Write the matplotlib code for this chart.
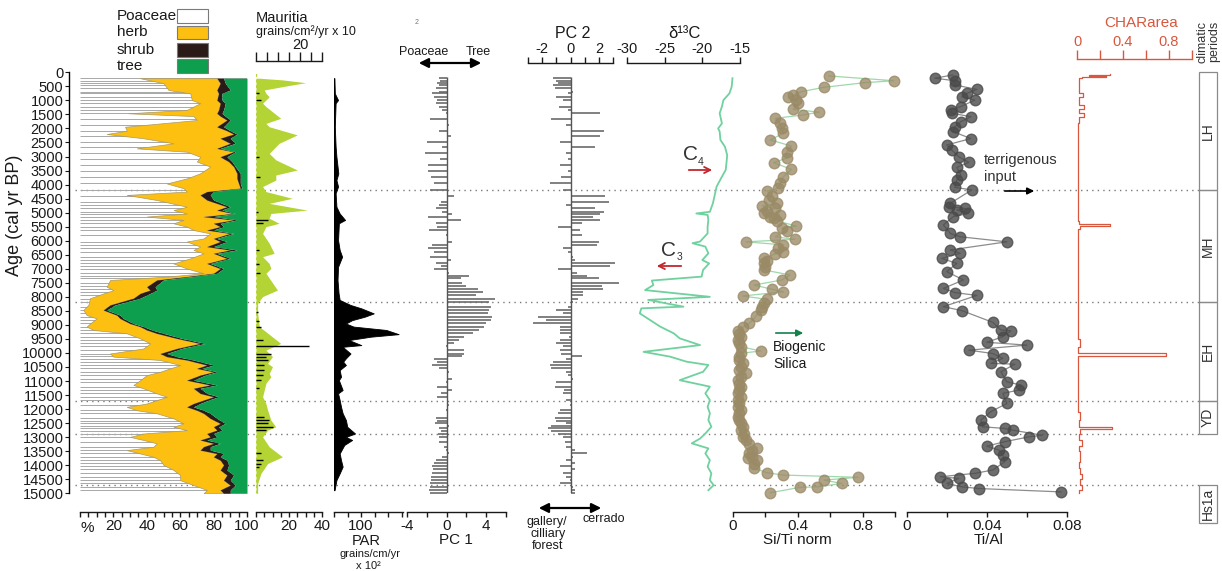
import numpy as np
import matplotlib.pyplot as plt
from matplotlib.patches import Rectangle, FancyArrowPatch

plt.rcParams['font.family'] = ['Liberation Sans', 'DejaVu Sans']
plt.rcParams['axes.linewidth'] = 1.0

# ---------------- pollen percentages (Poaceae / herb / shrub, tree = rest) ----------------
pollen_age = [210, 390, 630, 750, 990, 1100, 1340, 1460, 1560, 1700,
              1940, 2080, 2200, 2350, 2530, 2710, 2830, 3010, 3180, 3360,
              3600, 3780, 3960, 4130, 4250, 4370, 4550, 4790, 4910, 5030,
              5140, 5260, 5380, 5500, 5620, 5740, 5920, 6030, 6210, 6330,
              6450, 6630, 6810, 6990, 7160, 7280, 7400, 7640, 7760, 7880,
              8050, 8290, 8470, 8650, 8770, 8950, 9060, 9180, 9300, 9480,
              9660, 9840, 10020, 10130, 10250, 10430, 10550, 10670, 10790, 10970,
              11140, 11260, 11440, 11560, 11680, 11800, 11920, 12040, 12150, 12330,
              12510, 12630, 12750, 12870, 12990, 13100, 13220, 13340, 13460, 13580,
              13700, 13820, 13990, 14170, 14350, 14530, 14710, 14880, 15000]
poaceae = [36, 50, 53, 66, 67, 72, 64, 29, 68, 70,
           27, 28, 16, 38, 56, 34, 64, 72, 70, 78,
           72, 64, 52, 62, 64, 28, 46, 64, 56, 64,
           40, 62, 56, 64, 68, 78, 74, 64, 72, 68,
           74, 66, 56, 64, 74, 52, 18, 16, 20, 14,
           6, 5, 2, 4, 10, 6, 4, 8, 28, 36,
           42, 38, 18, 20, 48, 60, 54, 48, 40, 36,
           32, 38, 46, 52, 46, 40, 28, 34, 46, 56,
           62, 56, 64, 38, 30, 38, 46, 44, 28, 36,
           44, 48, 50, 56, 60, 60, 68, 76, 74]
herb = [46, 34, 29, 17, 15, 12, 19, 53, 16, 18,
        55, 60, 76, 46, 34, 48, 28, 12, 19, 14,
        22, 30, 43, 34, 12, 44, 30, 24, 26, 28,
        34, 30, 24, 20, 8, 12, 6, 20, 4, 22,
        6, 22, 20, 20, 6, 12, 28, 24, 22, 22,
        26, 13, 12, 18, 14, 24, 32, 32, 18, 22,
        30, 20, 30, 32, 16, 16, 16, 32, 32, 28,
        46, 30, 26, 28, 28, 28, 36, 36, 28, 22,
        22, 24, 18, 38, 48, 34, 34, 30, 44, 46,
        36, 36, 36, 28, 28, 26, 22, 8, 12]
shrub = [4, 3, 8, 2, 3, 3, 3, 3, 3, 2,
         4, 2, 2, 6, 3, 2, 1, 4, 2, 1,
         2, 2, 1, 1, 4, 6, 4, 2, 3, 1,
         6, 2, 4, 2, 4, 2, 2, 4, 4, 4,
         2, 2, 2, 2, 2, 3, 4, 5, 4, 6,
         4, 3, 2, 2, 2, 2, 2, 3, 4, 3,
         3, 3, 4, 6, 4, 4, 3, 2, 3, 4,
         4, 4, 4, 3, 3, 4, 4, 4, 4, 4,
         3, 3, 3, 4, 4, 4, 4, 4, 6, 4,
         4, 4, 3, 4, 4, 4, 3, 6, 4]

# ---------------- Mauritia (% and influx) ----------------
mau_age = [210, 270, 370, 490, 630, 750, 870, 990, 1100, 1220,
           1640, 1820, 1940, 2230, 2530, 2890, 3120, 3480, 3660, 3840,
           4070, 4250, 4490, 4670, 4910, 5030, 5200, 5380, 5500, 5740,
           6090, 6450, 6570, 6810, 6990, 7160, 7760, 7990, 8230, 8590,
           9060, 9660, 9900, 10130, 10370, 10490, 10730, 10850, 11080, 11320,
           11560, 11800, 12030, 12390, 12630, 12750, 12990, 13340, 13700, 13940,
           14290, 14650, 15000]
mau_pct = [2, 16, 30, 18, 5, 6, 8, 6, 4, 6,
           15, 6, 8, 25, 14, 8, 12, 25, 12, 12,
           4, 6, 22, 8, 31, 9, 8, 14, 6, 4,
           8, 11, 4, 8, 9, 6, 13, 4, 1, 1,
           2, 15, 6, 10, 7, 10, 8, 9, 6, 5,
           4, 6, 7, 9, 12, 7, 4, 8, 16, 7,
           3, 1, 1]
mflux_age = [750, 990, 3010, 3720, 4970, 5260, 5380, 6330, 6830, 7160,
             8530, 8850, 9060, 9540, 9750, 10020, 10130, 10250, 10430, 10610,
             10790, 10970, 11260, 12270, 12390, 12510, 12630, 12750, 13580, 13820,
             13940, 14050]
mflux = [1.5, 2.3, 1.5, 1.8, 0.8, 5.3, 3.0, 1.5, 1.5, 1.8,
         0.8, 1.5, 2.3, 3.0, 24, 6.8, 4.5, 5.3, 3.8, 3.8,
         3.0, 2.3, 1.5, 3.8, 6.1, 5.3, 7.6, 4.5, 2.3, 3.0,
         2.3, 1.5]

# ---------------- pollen accumulation rate ----------------
par_age = [210, 750, 990, 1100, 1940, 2650, 3010, 3600, 3840, 4070,
           4310, 4790, 5030, 5260, 5380, 5980, 6330, 6570, 6930, 7400,
           7880, 8110, 8290, 8410, 8590, 8710, 8830, 8950, 9060, 9180,
           9330, 9420, 9540, 9720, 9780, 10020, 10190, 10310, 10430, 10610,
           10850, 10970, 11320, 11440, 11680, 11920, 12150, 12390, 12630, 12870,
           12990, 13100, 13280, 13580, 13820, 14050, 14290, 14530, 14890]
par = [1, 3, 15, 6, 3, 6, 9, 16, 9, 15,
       6, 9, 21, 41, 18, 15, 21, 30, 15, 13,
       17, 21, 61, 101, 147, 113, 67, 44, 72, 193,
       239, 136, 55, 101, 32, 61, 44, 34, 44, 21,
       26, 18, 32, 15, 21, 26, 32, 44, 49, 78,
       44, 67, 38, 21, 26, 32, 21, 9, 2]

# ---------------- PCA scores ----------------
pc_age = [210, 300, 370, 450, 570, 690, 750, 870, 990, 1100,
          1220, 1340, 1440, 1680, 1880, 2080, 2270, 2470, 2670, 2890,
          3100, 3300, 3520, 3740, 3960, 4190, 4410, 4610, 4740, 4850,
          4970, 5050, 5140, 5260, 5380, 5500, 5620, 5800, 6040, 6150,
          6270, 6390, 6570, 6690, 6780, 6900, 7020, 7160, 7260, 7340,
          7500, 7620, 7730, 7820, 7940, 8060, 8170, 8350, 8470, 8590,
          8710, 8830, 8950, 9060, 9180, 9300, 9420, 9540, 9660, 9750,
          9900, 10020, 10110, 10230, 10310, 10430, 10550, 10670, 10790, 10910,
          11020, 11200, 11320, 11440, 11560, 11680, 11860, 12030, 12150, 12330,
          12410, 12510, 12600, 12690, 12770, 12870, 12980, 13160, 13340, 13460,
          13560, 13700, 13820, 13930, 14030, 14150, 14290, 14410, 14530, 14650,
          14790, 14890, 15000]
pc1 = [-0.78, -0.71, -0.95, -0.78, -1.12, -0.78, -1.46, -1.29, -0.95, -1.05,
       -0.78, -0.44, -0.10, -1.63, 0.24, -0.78, 0.41, -1.97, -0.44, -2.21,
       -0.71, -1.87, -1.87, -1.53, -1.29, -1.63, 0.75, -0.61, -0.78, -1.12,
       -0.44, 0.58, -1.87, 1.43, -1.12, -0.95, -1.80, -0.10, 0.58, -1.46,
       -1.87, -1.29, -1.63, 0.41, -1.12, -0.61, -1.29, 0.24, 2.28, 1.43,
       1.60, 1.94, 3.13, 3.64, 2.96, 4.90, 4.32, 4.49, 4.32, 4.15,
       4.59, 4.49, 3.98, 3.81, 3.30, 2.62, 1.77, 1.26, 0.75, -0.10,
       1.77, 1.77, 1.60, -1.29, -0.95, -1.46, -0.78, 0.24, 0.07, 0.58,
       -0.10, -0.95, 0.58, -0.61, -0.95, 0.07, 0.24, -0.10, 0.07, -1.12,
       -0.95, -1.19, 0.24, -0.78, -0.61, -0.85, -0.78, -0.78, -0.27, -0.10,
       0.24, -0.44, -1.12, -1.29, -1.46, -1.39, -1.46, -1.53, -1.56, -1.63,
       -1.63, -1.73, -1.63]
pc2 = [-1.24, -1.00, -0.88, -1.24, -1.12, 0.19, -0.17, -1.00, -0.52, 0.07,
       -0.81, -0.17, 2.10, -1.36, -0.29, 2.38, 2.10, -0.76, 1.74, -0.29,
       -0.17, -0.76, -0.17, -0.64, -1.48, -0.52, 2.45, 2.69, -0.29, 1.74,
       2.33, 2.10, 1.62, 2.10, 0.79, -0.88, 0.67, 0.79, 1.98, 1.86,
       -0.52, -0.17, 0.19, 0.31, 3.17, 2.81, -0.88, 0.43, 1.14, 1.98,
       3.40, 2.21, 2.29, 0.90, 0.90, 0.55, 0.19, -0.17, -1.00, -0.52,
       -2.31, -1.71, -2.67, -0.76, -0.76, -0.76, -0.10, -0.76, -1.00, -0.52,
       -0.76, -0.64, 0.79, -0.29, -1.24, -1.48, -1.36, -0.33, -0.17, 0.19,
       -1.00, -1.12, -0.48, -0.52, 0.00, -0.29, -0.05, -0.76, -0.88, -1.12,
       -1.00, -0.29, -1.36, -1.60, -1.36, -0.88, -0.52, -0.40, -0.33, 0.31,
       1.14, 0.19, -0.33, 0.31, -0.76, 0.31, -0.52, -0.33, -0.05, -0.76,
       0.19, 0.31, 0.31]

# ---------------- d13C ----------------
d13c_age = [210, 510, 750, 870, 990, 1220, 1460, 1820, 2000, 2110,
            2410, 2650, 2950, 3240, 3480, 3720, 4070, 4310, 4670, 4970,
            5030, 5080, 5260, 5500, 5740, 6030, 6090, 6210, 6450, 6690,
            6810, 7040, 7280, 7420, 7580, 7760, 8000, 8110, 8350, 8410,
            8590, 9060, 9300, 9480, 9720, 9960, 10130, 10310, 10430, 10670,
            10970, 11200, 11440, 11680, 11920, 12150, 12390, 12630, 12870, 13050,
            13220, 13400, 13580, 13820, 14050, 14290, 14530, 14710, 14890]
d13c = [-16.0, -16.1, -16.4, -16.8, -17.2, -17.4, -17.7, -17.4, -17.9, -17.7,
        -17.6, -17.0, -16.7, -16.8, -16.9, -17.4, -18.1, -18.3, -18.6, -19.0,
        -20.8, -19.3, -19.2, -19.3, -19.3, -20.3, -21.3, -19.6, -19.2, -20.0,
        -19.1, -19.9, -20.1, -26.7, -26.5, -27.6, -19.0, -27.2, -22.5, -28.1,
        -28.3, -25.6, -23.8, -23.0, -20.3, -27.8, -24.3, -22.1, -19.2, -19.9,
        -23.0, -19.0, -19.6, -19.0, -19.3, -19.0, -19.2, -18.8, -19.6, -20.3,
        -21.4, -19.2, -19.6, -19.0, -19.3, -18.8, -19.0, -18.5, -19.2]

# ---------------- XRF ratios ----------------
siti_age = [130, 300, 370, 535, 690, 810, 890, 990, 1100, 1320,
            1420, 1520, 1640, 1820, 2000, 2170, 2410, 2630, 2830, 3060,
            3220, 3460, 3720, 3960, 4130, 4230, 4400, 4550, 4670, 4760,
            4850, 4930, 5030, 5080, 5140, 5200, 5290, 5480, 5560, 5640,
            5860, 5950, 6040, 6150, 6270, 6390, 6470, 6630, 6720, 6810,
            6920, 7040, 7220, 7400, 7580, 7730, 7820, 7970, 8090, 8230,
            8350, 8470, 8700, 8950, 9080, 9210, 9330, 9420, 9540, 9660,
            9780, 9930, 10010, 10130, 10250, 10370, 10490, 10610, 10730, 10850,
            10970, 11090, 11200, 11320, 11440, 11560, 11680, 11800, 11920, 12030,
            12150, 12270, 12390, 12510, 12630, 12750, 12870, 12990, 13100, 13230,
            13370, 13480, 13580, 13700, 13760, 13820, 13950, 14110, 14270, 14350,
            14430, 14530, 14650, 14770, 14790, 14980]
siti = [0.59, 0.99, 0.81, 0.56, 0.42, 0.37, 0.34, 0.39, 0.40, 0.37,
        0.53, 0.43, 0.26, 0.29, 0.30, 0.31, 0.23, 0.36, 0.33, 0.33,
        0.25, 0.36, 0.31, 0.29, 0.28, 0.21, 0.24, 0.22, 0.27, 0.18,
        0.26, 0.21, 0.19, 0.29, 0.23, 0.25, 0.27, 0.39, 0.30, 0.33,
        0.26, 0.38, 0.08, 0.31, 0.28, 0.31, 0.26, 0.19, 0.21, 0.19,
        0.20, 0.19, 0.35, 0.30, 0.13, 0.24, 0.31, 0.06, 0.21, 0.19,
        0.18, 0.17, 0.14, 0.10, 0.06, 0.03, 0.04, 0.05, 0.03, 0.04,
        0.05, 0.17, 0.05, 0.04, 0.04, 0.06, 0.05, 0.04, 0.08, 0.05,
        0.03, 0.04, 0.05, 0.04, 0.03, 0.05, 0.03, 0.04, 0.03, 0.05,
        0.04, 0.03, 0.04, 0.05, 0.06, 0.05, 0.07, 0.06, 0.08, 0.10,
        0.15, 0.12, 0.10, 0.12, 0.09, 0.15, 0.13, 0.13, 0.21, 0.31,
        0.77, 0.56, 0.67, 0.52, 0.41, 0.23]
tial_age = [95, 210, 300, 450, 610, 750, 870, 990, 1220, 1340,
            1460, 1580, 1760, 1940, 2110, 2360, 2590, 2770, 3010, 3210,
            3390, 3660, 3840, 4100, 4190, 4670, 4790, 4850, 4910, 5030,
            5140, 5440, 5740, 5860, 6040, 6330, 6450, 6630, 6810, 7100,
            7400, 7700, 7850, 7950, 8350, 8490, 8910, 9180, 9210, 9420,
            9620, 9720, 9900, 10020, 10190, 10370, 10400, 10670, 11030, 11140,
            11320, 11440, 11800, 12090, 12390, 12630, 12690, 12750, 12930, 12990,
            13160, 13320, 13460, 13640, 13870, 14170, 14290, 14410, 14470, 14650,
            14770, 14830, 14950]
tial = [0.023, 0.014, 0.024, 0.024, 0.035, 0.030, 0.0275, 0.034, 0.027, 0.022,
        0.0225, 0.032, 0.027, 0.024, 0.023, 0.032, 0.020, 0.0225, 0.026, 0.031,
        0.025, 0.027, 0.025, 0.024, 0.0325, 0.0217, 0.021, 0.029, 0.025, 0.0308,
        0.0233, 0.0183, 0.0217, 0.0267, 0.050, 0.0217, 0.0267, 0.0175, 0.025, 0.020,
        0.0283, 0.0183, 0.0242, 0.035, 0.0183, 0.0275, 0.043, 0.047, 0.052, 0.048,
        0.040, 0.060, 0.031, 0.043, 0.048, 0.042, 0.054, 0.047, 0.050, 0.057,
        0.056, 0.048, 0.050, 0.042, 0.037, 0.038, 0.049, 0.053, 0.0675, 0.061,
        0.049, 0.040, 0.046, 0.048, 0.049, 0.043, 0.034, 0.0167, 0.026, 0.020,
        0.0275, 0.036, 0.077]

# ---------------- charcoal area ----------------
char_age = [50, 90, 130, 170, 220, 400, 600, 750, 880, 1000,
            1150, 1300, 1450, 1600, 1800, 2100, 2400, 2700, 3000, 3300,
            3600, 3900, 4200, 4500, 4800, 5100, 5300, 5400, 5470, 5600,
            5900, 6200, 6500, 6800, 7100, 7400, 7700, 8000, 8300, 8600,
            8900, 9200, 9500, 9800, 10010, 10110, 10300, 10600, 10900, 11200,
            11500, 11800, 12100, 12400, 12620, 12700, 12900, 13100, 13300, 13500,
            13700, 13900, 14100, 14300, 14500, 14700, 14900]
char_val = [0.29, 0.10, 0.25, 0.04, 0.02, 0.015, 0.02, 0.05, 0.02, 0.015,
            0.06, 0.02, 0.06, 0.015, 0.01, 0.012, 0.008, 0.01, 0.006, 0.008,
            0.01, 0.006, 0.01, 0.008, 0.012, 0.01, 0.02, 0.29, 0.03, 0.01,
            0.008, 0.006, 0.01, 0.008, 0.005, 0.008, 0.006, 0.008, 0.01, 0.006,
            0.008, 0.01, 0.03, 0.012, 0.77, 0.01, 0.01, 0.008, 0.01, 0.006,
            0.01, 0.008, 0.025, 0.015, 0.30, 0.03, 0.02, 0.04, 0.02, 0.03,
            0.025, 0.02, 0.03, 0.04, 0.03, 0.04, 0.02]

# ---------------- climatic periods ----------------
periods = ['LH', 'MH', 'EH', 'YD', 'Hs1a']
period_start = [0, 4200, 8200, 11700, 14700]
period_end = [4200, 8200, 11700, 12900, 16050]
boundaries = [4200, 8200, 11700, 12900, 14700]

# colours
HERB, SHRUB, TREE = '#FDC010', '#2B1B18', '#0E9F4E'
MAU = '#B4D334'
PC_BAR = '#6b6b6b'
D13C = '#6FD19E'
SITI_MK, SITI_LN = '#9A8A66', '#9ED8AB'
TIAL_MK, TIAL_LN = '#4a4a4a', '#8c8c8c'
CHAR = '#D9573D'
TXT = '#1a1a1a'

W, H = 1222, 571
TOP, BOT = 72.3, 493.3   # pixel rows of 0 and 15000 cal yr BP
fig = plt.figure(figsize=(W / 100, H / 100), dpi=100, facecolor='white')


def fx(x):
    return x / W


def fy(y):
    return 1 - y / H


def panel(x0, x1, xlim):
    ax = fig.add_axes([fx(x0), fy(BOT), (x1 - x0) / W, (BOT - TOP) / H], facecolor='none')
    ax.set_xlim(*xlim)
    ax.set_ylim(15000, 0)
    for sp in ax.spines.values():
        sp.set_visible(False)
    ax.set_xticks([])
    ax.set_yticks([])
    return ax


def scale(ax, side, ticks, labels, offset, length=5, size=11, color=TXT, pad=1.5):
    sp = ax.spines[side]
    sp.set_visible(True)
    sp.set_position(('outward', offset * 0.72))
    sp.set_color(color)
    ax.xaxis.set_ticks_position(side)
    ax.set_xticks(ticks)
    ax.set_xticklabels(labels)
    ax.tick_params(axis='x', direction='out', length=length * 0.72, width=1,
                   color=color, labelcolor=color, labelsize=size, pad=pad)


def ftext(x, y, s, **kw):
    kw.setdefault('ha', 'center')
    kw.setdefault('va', 'center')
    kw.setdefault('color', TXT)
    fig.text(fx(x), fy(y), s, **kw)


def farrow(x0, y0, x1, y1, style, color, lw=1.3, ms=11):
    fig.add_artist(FancyArrowPatch((fx(x0), fy(y0)), (fx(x1), fy(y1)),
                                   transform=fig.transFigure, arrowstyle=style,
                                   color=color, lw=lw, mutation_scale=ms))


# dotted period boundaries behind every panel
ax_bg = fig.add_axes([fx(75), fy(BOT), (1199 - 75) / W, (BOT - TOP) / H])
ax_bg.set_axis_off()
ax_bg.set_xlim(0, 1)
ax_bg.set_ylim(15000, 0)
ax_bg.hlines(boundaries, 0, 1, colors='#7a7a7a', linestyles=(0, (1, 3)), lw=1.0)

# ---- pollen diagram ----
ax_pol = panel(80, 247, (0, 100))
p_cum = np.array(poaceae)
h_cum = p_cum + np.array(herb)
s_cum = h_cum + np.array(shrub)
ax_pol.hlines(pc_age, 0, 100, colors='#a8a8a8', lw=0.7, zorder=1)
ax_pol.fill_betweenx(pollen_age, p_cum, h_cum, color=HERB, ec='#a99a6a', lw=0.5, zorder=2)
ax_pol.fill_betweenx(pollen_age, h_cum, s_cum, color=SHRUB, lw=0, zorder=2)
ax_pol.fill_betweenx(pollen_age, s_cum, 100, color=TREE, lw=0, zorder=2)
pct_ticks = list(range(0, 101, 5))
scale(ax_pol, 'bottom', pct_ticks,
      [str(t) if t % 20 == 0 and t > 0 else '' for t in pct_ticks], 19)
ftext(87, 528, '%', fontsize=11)
ax_pol.spines['left'].set_visible(True)
ax_pol.spines['left'].set_position(('outward', 11 * 0.72))
ax_pol.set_yticks(np.arange(0, 15001, 500))
ax_pol.tick_params(axis='y', length=3, labelsize=10.5, pad=1, colors=TXT)
ftext(15, 215, 'Age (cal yr BP)', rotation=90, fontsize=13)

# legend
legend_rows = [('Poaceae', 'white', 9, 23), ('herb', HERB, 26, 39),
               ('shrub', SHRUB, 43, 57), ('tree', TREE, 59, 73)]
for name, col, y0, y1 in legend_rows:
    ftext(117, (y0 + y1) / 2, name, ha='left', fontsize=11)
    fig.add_artist(Rectangle((fx(177), fy(y1)), 31 / W, (y1 - y0) / H, transform=fig.transFigure,
                             fc=col, ec='#7a7a7a', lw=0.8))

# ---- Mauritia ----
ax_mau = panel(256, 322, (0, 40))
ax_mau.fill_betweenx(mau_age, 0, mau_pct, color=MAU, lw=0)
ax_mau.axvline(0, color=MAU, ls=(0, (2, 2)), lw=1)
scale(ax_mau, 'bottom', range(0, 41, 5), ['', '', '', '', '20', '', '', '', '40'], 19)
mt = ax_mau.twiny()
mt.set_facecolor('none')
for sp in mt.spines.values():
    sp.set_visible(False)
mt.set_xlim(0, 30)
mt.hlines(mflux_age, 0, mflux, colors='k', lw=1.0)
scale(mt, 'top', range(0, 31, 5), ['', '', '', '', '20', '', ''], 11, length=9, size=10.5, pad=0.5)
ftext(256, 18, 'Mauritia', ha='left', fontsize=10.5)
ftext(256, 32, 'grains/cm²/yr x 10', ha='left', fontsize=9)

# ---- PAR ----
ax_par = panel(334, 403, (0, 255))
ax_par.fill_betweenx(par_age, 0, par, color='k', lw=0.6)
ax_par.vlines(0, par_age[0], par_age[-1], colors='k', lw=1)
scale(ax_par, 'bottom', range(0, 251, 50), ['', '', '100', '', '', ''], 19)
ftext(366, 541, 'PAR', fontsize=10.5)
ftext(370, 554, 'grains/cm/yr', fontsize=8)
ftext(368, 566, 'x 10²', fontsize=8)

# ---- PC 1 ----
ax_pc1 = panel(407, 506, (-4, 6))
ax_pc1.hlines(pc_age, 0, pc1, colors=PC_BAR, lw=1.2, clip_on=False)
ax_pc1.vlines(0, 150, 15000, colors='#555555', lw=1)
scale(ax_pc1, 'bottom', range(-4, 7, 2), ['-4', '', '0', '', '4', ''], 19)
ftext(456, 540, 'PC 1', fontsize=11)
ftext(424, 52, 'Poaceae', fontsize=9)
ftext(478, 52, 'Tree', fontsize=9)
farrow(416, 63, 484, 63, '<|-|>', 'k', lw=1.6, ms=14)
ftext(417, 23, '2', fontsize=5, color='#777777')

# ---- PC 2 ----
ax_pc2 = panel(528, 613, (-3, 3))
ax_pc2.hlines(pc_age, 0, pc2, colors=PC_BAR, lw=1.2, clip_on=False)
ax_pc2.vlines(0, 150, 15000, colors='#555555', lw=1)
scale(ax_pc2, 'top', range(-3, 4), ['', '-2', '', '0', '', '2', ''], 9, length=6, size=10.5, pad=1)
ftext(573, 33, 'PC 2', fontsize=11.5)
farrow(536, 508, 604, 508, '<|-|>', 'k', lw=1.6, ms=14)
ftext(547, 522, 'gallery/', fontsize=9)
ftext(548, 534, 'cilliary', fontsize=9)
ftext(548, 546, 'forest', fontsize=9)
ftext(604, 519, 'cerrado', fontsize=9)

# ---- d13C ----
ax_c = panel(627, 740, (-30, -15))
ax_c.plot(d13c, d13c_age, color=D13C, lw=1.3, clip_on=False)
scale(ax_c, 'top', range(-30, -14, 5), ['-30', '-25', '-20', '-15'], 9, length=6, size=10.5, pad=1)
ftext(684, 33, 'δ¹³C', fontsize=12)
ftext(690, 155, 'C', fontsize=15, color='#333333')
ftext(701, 162, '4', fontsize=7.5, color='#333333')
farrow(686, 170, 715, 170, '->', '#C1272D', lw=1.3, ms=11)
ftext(669, 250, 'C', fontsize=15, color='#333333')
ftext(680, 257, '3', fontsize=7.5, color='#333333')
farrow(684, 266, 654, 266, '->', '#C1272D', lw=1.3, ms=11)

# ---- Si/Ti ----
ax_si = panel(733, 895.5, (0, 1))
ax_si.plot(siti, siti_age, color=SITI_LN, lw=0.9, zorder=1, clip_on=False)
ax_si.plot(siti, siti_age, 'o', ms=7.6, mfc=SITI_MK, mec=SITI_MK, alpha=0.78,
           zorder=2, clip_on=False)
scale(ax_si, 'bottom', np.arange(0, 1.01, 0.2), ['0', '', '0.4', '', '0.8', ''], 19)
ftext(797, 540, 'Si/Ti norm', fontsize=11)
farrow(773, 333, 806, 333, '-|>', '#12824A', lw=1.2, ms=10)
ftext(773, 347, 'Biogenic', ha='left', fontsize=10)
ftext(773, 364, 'Silica', ha='left', fontsize=10)

# ---- Ti/Al ----
ax_ti = panel(906.7, 1067, (0, 0.08))
ax_ti.plot(tial, tial_age, color=TIAL_LN, lw=0.9, zorder=1, clip_on=False)
ax_ti.plot(tial, tial_age, 'o', ms=7.6, mfc=TIAL_MK, mec=TIAL_MK, alpha=0.8,
           zorder=2, clip_on=False)
scale(ax_ti, 'bottom', np.arange(0, 0.081, 0.02), ['0', '', '0.04', '', '0.08'], 19)
ftext(989, 540, 'Ti/Al', fontsize=11)
ftext(984, 160, 'terrigenous', ha='left', fontsize=10.5, color='#333333')
ftext(984, 177, 'input', ha='left', fontsize=10.5, color='#333333')
farrow(1002, 191, 1037, 191, '-|>', 'k', lw=1.2, ms=10)

# ---- charcoal ----
ax_ch = panel(1077, 1192, (0, 1))
edges = np.append(char_age, 15000)
ax_ch.plot(np.repeat(char_val, 2), np.repeat(edges, 2)[1:-1], color=CHAR, lw=0.9, clip_on=False)
scale(ax_ch, 'top', np.arange(0, 1.01, 0.2), ['0', '', '0.4', '', '0.8', ''], 13,
      length=9, size=10.5, color=CHAR, pad=1)
ftext(1141, 23, 'CHARarea', fontsize=11, color=CHAR)

# ---- climatic periods ----
ax_per = panel(1199, 1217, (0, 1))
for name, a0, a1 in zip(periods, period_start, period_end):
    ax_per.add_patch(Rectangle((0, a0), 1, a1 - a0, fill=False, ec='#8a8a8a', lw=0.9, clip_on=False))
    ax_per.text(0.5, (a0 + a1) / 2, name, rotation=90, ha='center', va='center',
                fontsize=10, color='#333333', clip_on=False)
ftext(1203, 21, 'climatic', rotation=90, va='top', fontsize=9, color='#333333')
ftext(1214, 21, 'periods', rotation=90, va='top', fontsize=9, color='#333333')

fig.savefig('out.png', dpi=100, facecolor='white')
